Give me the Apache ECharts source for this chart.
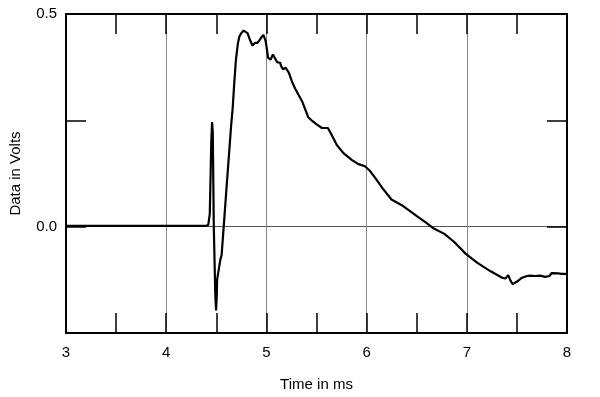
<!DOCTYPE html>
<html>
<head>
<meta charset="utf-8">
<script src="https://cdn.jsdelivr.net/npm/echarts@6/dist/echarts.min.js"></script>
<style>
html,body{margin:0;padding:0;background:#fff;}
#chart{width:600px;height:397px;}
</style>
</head>
<body>
<div id="chart"></div>
<script>
var timesMs = [3.0,4.0,4.40,4.42,4.435,4.45,4.458,4.465,4.475,4.49,4.498,4.505,4.508,4.525,4.54,4.553,4.574,4.60,4.63,4.647,4.663,4.68,4.696,4.715,4.73,4.75,4.772,4.79,4.812,4.835,4.861,4.885,4.911,4.93,4.95,4.97,4.993,5.017,5.043,5.065,5.082,5.109,5.135,5.15,5.168,5.191,5.224,5.257,5.29,5.356,5.416,5.46,5.505,5.554,5.614,5.653,5.703,5.769,5.851,5.918,5.983,6.03,6.082,6.16,6.248,6.347,6.43,6.512,6.59,6.661,6.776,6.875,6.99,7.106,7.238,7.353,7.386,7.413,7.436,7.459,7.502,7.551,7.60,7.634,7.683,7.733,7.782,7.825,7.848,7.914,7.947,8.0];
var volts = [0.002,0.002,0.002,0.004,0.03,0.20,0.246,0.22,0.0,-0.16,-0.197,-0.16,-0.125,-0.10,-0.078,-0.067,0.0,0.085,0.18,0.235,0.277,0.34,0.393,0.43,0.447,0.455,0.461,0.458,0.455,0.44,0.426,0.432,0.432,0.438,0.445,0.451,0.436,0.397,0.393,0.405,0.407,0.386,0.386,0.376,0.370,0.374,0.362,0.34,0.323,0.295,0.258,0.248,0.240,0.232,0.232,0.215,0.192,0.173,0.157,0.147,0.142,0.132,0.116,0.09,0.064,0.051,0.037,0.023,0.010,-0.003,-0.017,-0.036,-0.064,-0.085,-0.105,-0.120,-0.122,-0.114,-0.127,-0.135,-0.129,-0.120,-0.116,-0.115,-0.116,-0.115,-0.118,-0.116,-0.109,-0.110,-0.111,-0.111];
var yLabels = {"0": "0.0", "0.5": "0.5"};
var xTitle = "Time in ms";
var yTitle = "Data in Volts";

var data = timesMs.map(function(t, i){ return [t, volts[i]]; });
var font = "Liberation Sans, Arial, sans-serif";

var chart = echarts.init(document.getElementById('chart'), null, {renderer: 'canvas'});
var axisLine = {show: true, onZero: false, lineStyle: {color: '#000', width: 2}};
var tick = {show: true, inside: true, length: 20, lineStyle: {color: '#000', width: 1.5}};
var minor = {show: true, splitNumber: 2, length: 20, lineStyle: {color: '#000', width: 1.5}};
chart.setOption({
  animation: false,
  backgroundColor: '#fff',
  grid: {left: 62, right: 33, top: 14, bottom: 59, containLabel: false},
  xAxis: [{
    type: 'value', min: 3, max: 8, interval: 1, position: 'bottom',
    axisLine: axisLine, axisTick: tick, minorTick: minor,
    splitLine: {show: true, lineStyle: {color: '#888', width: 1}},
    axisLabel: {show: true, color: '#000', fontSize: 15, fontFamily: font, margin: 12},
    name: xTitle, nameLocation: 'middle', nameGap: 44,
    nameTextStyle: {color: '#000', fontSize: 15, fontFamily: font}
  }, {
    type: 'value', min: 3, max: 8, interval: 1, position: 'top',
    axisLine: axisLine, axisTick: tick, minorTick: minor,
    splitLine: {show: false}, axisLabel: {show: false}
  }],
  yAxis: [{
    type: 'value', min: -0.25, max: 0.5, interval: 0.25, position: 'left',
    axisLine: axisLine, axisTick: tick,
    splitLine: {show: true, lineStyle: {color: ['transparent', '#555', 'transparent', 'transparent'], width: 1}},
    axisLabel: {show: true, color: '#000', fontSize: 15, fontFamily: font, margin: 9,
      formatter: function(v){ var k = String(Math.round(v*100)/100); return yLabels[k] || ''; }},
    name: yTitle, nameLocation: 'middle', nameGap: 43,
    nameTextStyle: {color: '#000', fontSize: 15, fontFamily: font}
  }, {
    type: 'value', min: -0.25, max: 0.5, interval: 0.25, position: 'right',
    axisLine: axisLine, axisTick: tick,
    splitLine: {show: false}, axisLabel: {show: false}
  }],
  series: [{
    type: 'line', xAxisIndex: 0, yAxisIndex: 0,
    data: data, showSymbol: false, smooth: false,
    lineStyle: {color: '#000', width: 2.2}, z: 5
  }]
});
</script>
</body>
</html>
